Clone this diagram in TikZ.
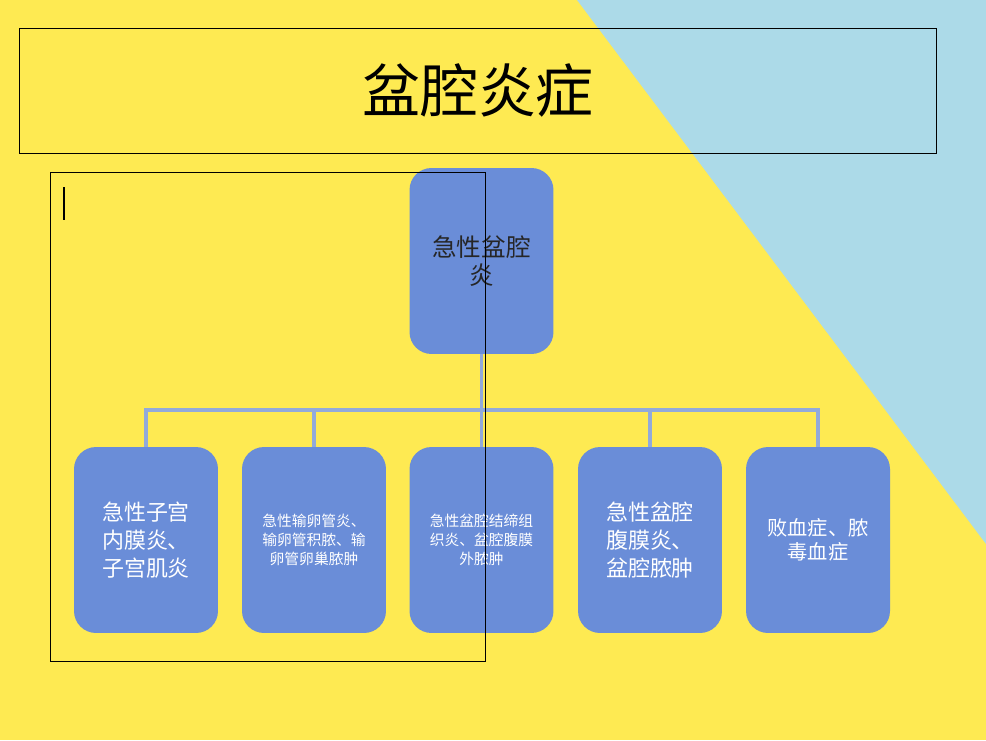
\documentclass[tikz,border=0pt]{standalone}
\usepackage{fontspec}
\newfontfamily\cjk{Noto Sans CJK SC}
\usetikzlibrary{positioning}
\definecolor{bgyellow}{RGB}{254,234,82}
\definecolor{bgblue}{RGB}{172,218,232}
\definecolor{boxblue}{RGB}{106,141,216}
\definecolor{linkblue}{RGB}{146,170,218}

\tikzset{
  blockbox/.style={rectangle, rounded corners=0.44cm, fill=boxblue, minimum width=2.88cm,
    minimum height=3.72cm, align=center, inner sep=2pt},
  bigtext/.style={text=white, font=\cjk\fontsize{12.5}{16}\selectfont},
  smalltext/.style={text=white, font=\cjk\fontsize{8.4}{10.8}\selectfont},
  link/.style={draw=linkblue, line width=2pt}
}

\begin{document}
\begin{tikzpicture}[x=0.02cm, y=-0.02cm]
% background
\fill[bgyellow] (0,0) rectangle (986,740);
\fill[bgblue] (577,0) -- (986,0) -- (986,544) -- cycle;

% title
\node[draw, line width=0.55pt, minimum width=18.36cm, minimum height=2.5cm,
  font=\cjk\fontsize{33}{36}\selectfont] (title) at (478,90.5) {盆腔炎症};

% boxes
\node[blockbox, font=\cjk\fontsize{14}{16}\selectfont, text=black!85] (top) at (481.5,261) {急性盆腔\\炎};
\node[blockbox, bigtext] (m1) at (146,540) {急性子宫\\内膜炎、\\子宫肌炎};
\node[blockbox, smalltext] (m2) at (314,540) {急性输卵管炎、\\输卵管积脓、输\\卵管卵巢脓肿};
\node[blockbox, smalltext] (m3) at (481.5,540) {急性盆腔结缔组\\织炎、盆腔腹膜\\外脓肿};
\node[blockbox, bigtext] (m4) at (650,540) {急性盆腔\\腹膜炎、\\盆腔脓肿};
\node[blockbox, text=white, font=\cjk\fontsize{11.5}{13.7}\selectfont] (m5) at (818,540) {败血症、脓\\毒血症};

% connectors
\coordinate (bus) at (0,410);
\draw[link] (top.south) -- (m3.north);
\draw[link] (m1.north) -- (m1.north |- bus) -- (m5.north |- bus) -- (m5.north);
\foreach \n in {m2,m4}
  \draw[link] (\n.north |- bus) -- (\n.north);

% placeholder frame
\draw[line width=0.55pt] (50,172) rectangle (485,661);
\draw[line width=1.7pt] (64,187) -- (64,220);
\end{tikzpicture}
\end{document}
